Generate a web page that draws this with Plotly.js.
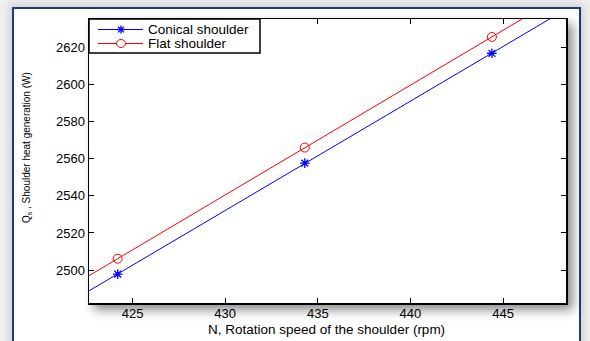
<!DOCTYPE html>
<html>
<head>
<meta charset="utf-8">
<script src="https://cdn.plot.ly/plotly-3.0.1.min.js"></script>
<style>
  html, body { margin: 0; padding: 0; background: #efefef; }
  #wrap { position: relative; width: 590px; height: 341px; overflow: hidden; background: #efefef; }
  #frame {
    position: absolute; left: 12px; top: 7px; width: 565px; height: 360px;
    background: #ffffff; border: 2px solid #1d3b7c;
    box-shadow: 0 0 8px 3px rgba(0,0,0,0.12);
  }
  #axshadow {
    position: absolute; left: 89px; top: 19px; width: 477px; height: 284px;
    box-shadow: 6px 6px 10px 1px rgba(0,0,0,0.45);
  }
  #chart { position: absolute; left: 0; top: 0; width: 590px; height: 341px; }
</style>
</head>
<body>
<div id="wrap">
  <div id="frame"></div>
  <div id="axshadow"></div>
  <div id="chart"></div>
</div>
<script>
// Rotation speed of the shoulder (rpm)
const speed = [424.2, 434.3, 444.4];
// Shoulder heat generation (W)
const conical = [2497.8, 2557.7, 2617.0];
const flat = [2506.1, 2566.1, 2625.8];
// Series names and tick positions
const seriesNames = ['Conical shoulder', 'Flat shoulder'];
const xTicks = [425, 430, 435, 440, 445];
const yTicks = [2500, 2520, 2540, 2560, 2580, 2600, 2620];

const xRange = [422.65, 448.4];
const yRange = [2482.2, 2635.5];

const BLUE = '#0000ff', RED = '#ff0000';
const FONT = 'Liberation Sans, Arial, sans-serif';

// least-squares straight line through a series, evaluated over the x axis span
function fitLine(xs, ys) {
  const n = xs.length;
  const mx = xs.reduce((a, b) => a + b, 0) / n;
  const my = ys.reduce((a, b) => a + b, 0) / n;
  let sxy = 0, sxx = 0;
  for (let i = 0; i < n; i++) { sxy += (xs[i] - mx) * (ys[i] - my); sxx += (xs[i] - mx) * (xs[i] - mx); }
  const k = sxy / sxx, b = my - k * mx;
  return { x: xRange.slice(), y: xRange.map(v => k * v + b) };
}

const fc = fitLine(speed, conical);
const ff = fitLine(speed, flat);

const traces = [
  { x: fc.x, y: fc.y, mode: 'lines', line: { color: BLUE, width: 1 }, hoverinfo: 'skip' },
  { x: ff.x, y: ff.y, mode: 'lines', line: { color: RED, width: 1 }, hoverinfo: 'skip' },
  { x: speed, y: conical, name: seriesNames[0], mode: 'markers',
    marker: { symbol: 'asterisk-open', size: 8, color: BLUE, line: { color: BLUE, width: 1.3 } } },
  { x: speed, y: flat, name: seriesNames[1], mode: 'markers',
    marker: { symbol: 'circle-open', size: 9, color: RED, line: { color: RED, width: 1 } } }
];

// Legend box drawn in pixels from the top-left corner of the plot area
const LEG_W = 171, LEG_H = 34, PLOT_W = 477, PLOT_H = 284;
const rowY = [-10.5, -24.5];
const sampleX = [9, 54], symX = 32, textX = 59;

function px(shape) {
  return Object.assign({ xref: 'paper', yref: 'paper', xsizemode: 'pixel', ysizemode: 'pixel',
    xanchor: 0, yanchor: 1, layer: 'above' }, shape);
}

const r = 4, d = 2.9;
const shapes = [
  { type: 'rect', xref: 'paper', yref: 'paper', x0: 0, x1: LEG_W / PLOT_W, y0: 1 - LEG_H / PLOT_H, y1: 1,
    line: { color: '#000000', width: 1.5 }, fillcolor: '#ffffff', layer: 'above' },
  px({ type: 'line', x0: sampleX[0], x1: sampleX[1], y0: rowY[0], y1: rowY[0], line: { color: BLUE, width: 1 } }),
  px({ type: 'line', x0: sampleX[0], x1: sampleX[1], y0: rowY[1], y1: rowY[1], line: { color: RED, width: 1 } }),
  px({ type: 'path', line: { color: BLUE, width: 1.3 },
    path: `M${symX - r},${rowY[0]}H${symX + r}M${symX},${rowY[0] - r}V${rowY[0] + r}` +
          `M${symX - d},${rowY[0] - d}L${symX + d},${rowY[0] + d}M${symX - d},${rowY[0] + d}L${symX + d},${rowY[0] - d}` }),
  px({ type: 'circle', x0: symX - 4.5, x1: symX + 4.5, y0: rowY[1] - 4, y1: rowY[1] + 4,
    line: { color: RED, width: 1 }, fillcolor: '#ffffff' })
];

const annotations = seriesNames.map((t, i) => ({
  text: t, xref: 'paper', yref: 'paper', x: 0, y: 1, xshift: textX - 1, yshift: rowY[i],
  xanchor: 'left', yanchor: 'middle', showarrow: false, height: 13, borderpad: 0,
  font: { family: FONT, size: 13.5, color: '#000000' }
}));
// y axis title
annotations.push({
  text: 'Q<sub>s</sub> , Shoulder heat generation (W)', xref: 'paper', yref: 'paper',
  x: 0, y: 0.5, xshift: -62, yshift: 13, textangle: -90, showarrow: false,
  xanchor: 'center', yanchor: 'middle',
  font: { family: FONT, size: 10, color: '#000000' }
});
// x axis title
annotations.push({
  text: 'N, Rotation speed of the shoulder (rpm)', xref: 'paper', yref: 'paper',
  x: 0.5, y: 0, xshift: -1.5, yshift: -26, showarrow: false,
  xanchor: 'center', yanchor: 'middle', borderpad: 0,
  font: { family: FONT, size: 13.5, color: '#000000' }
});

const axisCommon = {
  showline: true, linecolor: '#000000', linewidth: 1.5, mirror: 'ticks',
  ticks: 'inside', ticklen: 5, tickwidth: 1, tickcolor: '#000000',
  showgrid: false, zeroline: false,
  tickfont: { family: FONT, size: 13, color: '#000000' }
};

const layout = {
  width: 590, height: 341,
  margin: { l: 89, r: 24, t: 19, b: 38 },
  paper_bgcolor: 'rgba(0,0,0,0)',
  plot_bgcolor: '#ffffff',
  font: { family: FONT, color: '#000000' },
  showlegend: false,
  xaxis: Object.assign({}, axisCommon, { range: xRange, tickvals: xTicks, ticklabelstandoff: -2 }),
  yaxis: Object.assign({}, axisCommon, { range: yRange, tickvals: yTicks }),
  shapes: shapes,
  annotations: annotations
};

Plotly.newPlot('chart', traces, layout, { displayModeBar: false, staticPlot: true });
</script>
</body>
</html>
